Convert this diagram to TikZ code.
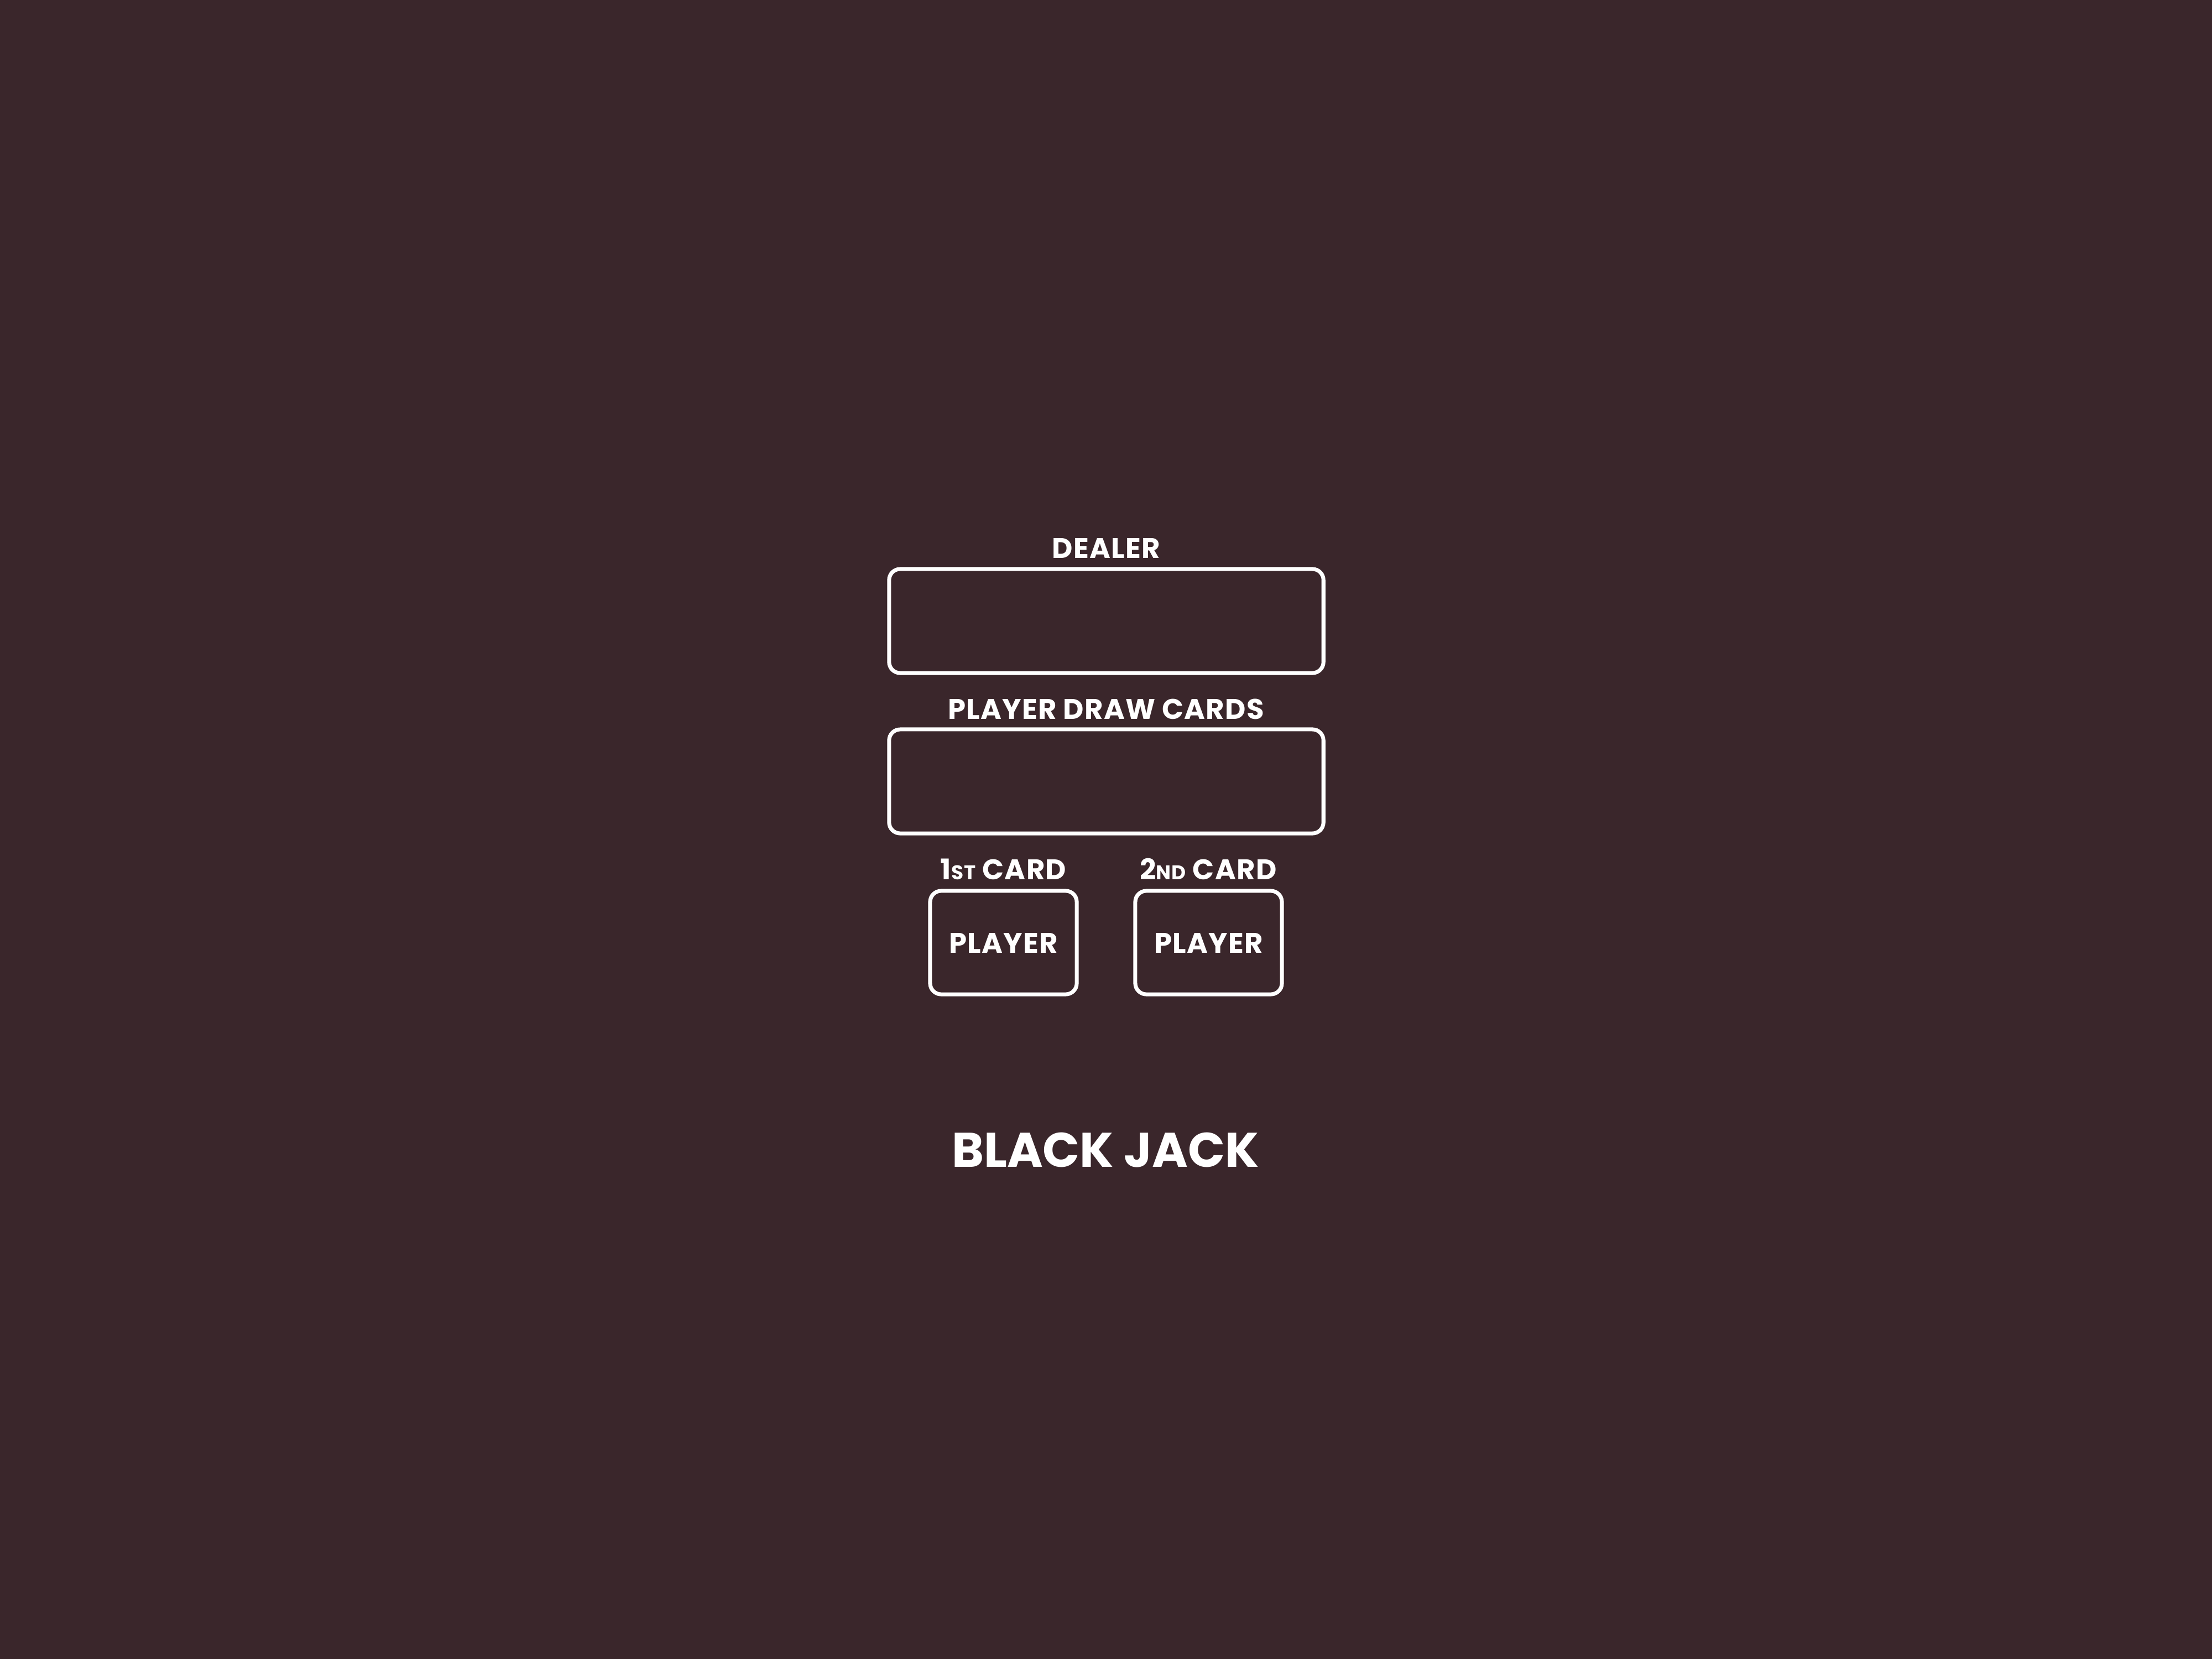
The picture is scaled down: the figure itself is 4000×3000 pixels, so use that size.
\documentclass[tikz,border=0pt]{standalone}
\usepackage{fontspec}
\setmainfont{Poppins}
\newfontfamily\lblfont{Poppins}[LetterSpace=2.5]
\definecolor{felt}{HTML}{3A262B}
\begin{document}
\begin{tikzpicture}[x=0.01cm,y=-0.01cm,
  slot/.style={draw=white,line width=2pt,rounded corners=0.2cm,inner sep=0pt},
  lbl/.style={text=white,anchor=base,inner sep=0pt,font=\lblfont\bfseries\fontsize{14.6}{15}\selectfont},
  title/.style={text=white,anchor=base,inner sep=0pt,font=\bfseries\fontsize{25}{27}\selectfont}]
\fill[felt] (0,0) rectangle (4000,3000);
\useasboundingbox (0,0) rectangle (4000,3000);
\node[slot,minimum width=7.85cm,minimum height=1.88cm] (dealer) at (2000.5,1123) {};
\node[slot,minimum width=7.85cm,minimum height=1.88cm] (draw) at (2000.5,1413) {};
\node[slot,minimum width=2.65cm,minimum height=1.87cm] (c1) at (1814.5,1704.5) {};
\node[slot,minimum width=2.65cm,minimum height=1.87cm] (c2) at (2185.5,1704.5) {};
\node[lbl] (tdealer) at (2000,1009) {DEALER};
\node[lbl] (tdraw) at (2000,1300) {PLAYER DRAW CARDS};
\node[lbl] (t1) at (1814.5,1590) {1{\fontsize{10.2}{11}\selectfont ST} CARD};
\node[lbl] (t2) at (2185,1590) {2{\fontsize{10.2}{11}\selectfont ND} CARD};
\node[lbl] (p1) at (1814.5,1723) {PLAYER};
\node[lbl] (p2) at (2185.5,1723) {PLAYER};
\node[title] (bj) at (1999,2110) {BLACK JACK};
\end{tikzpicture}
\end{document}
